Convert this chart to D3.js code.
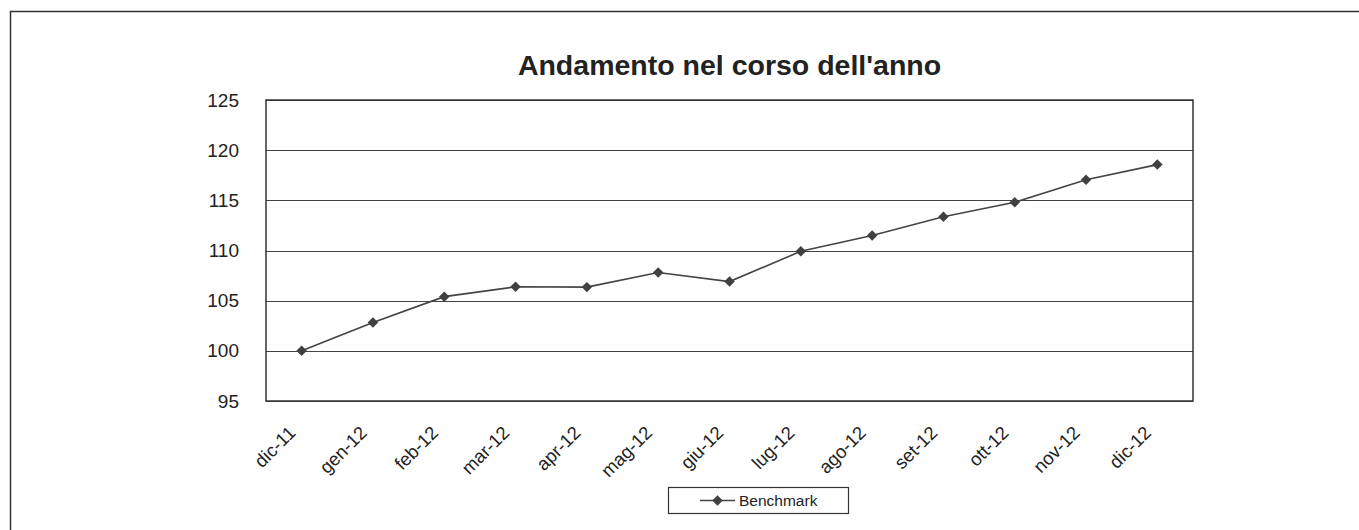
<!DOCTYPE html>
<html>
<head>
<meta charset="utf-8">
<script src="https://cdn.jsdelivr.net/npm/d3@7"></script>
<style>
  body { margin: 0; background: #fff; }
  text { font-family: "Liberation Sans", Arial, sans-serif; fill: #222; }
</style>
</head>
<body>
<div id="chart"></div>
<script>
// chart data
var months = ["dic-11", "gen-12", "feb-12", "mar-12", "apr-12", "mag-12", "giu-12",
              "lug-12", "ago-12", "set-12", "ott-12", "nov-12", "dic-12"];
var benchmark = [100, 102.83, 105.4, 106.38, 106.35, 107.8, 106.9,
                 109.92, 111.5, 113.37, 114.8, 117.06, 118.56];
var yTicks = [95, 100, 105, 110, 115, 120, 125];
var seriesName = "Benchmark";
var chartTitle = "Andamento nel corso dell'anno";

var width = 1359, height = 530;
var plot = {left: 266, right: 1193, top: 100, bottom: 401};

var svg = d3.select("#chart")
    .append("svg")
    .attr("width", width)
    .attr("height", height);

// outer frame (runs off the right and bottom edge)
svg.append("rect")
    .attr("x", 10.5).attr("y", 11.5)
    .attr("width", 1400).attr("height", 600)
    .attr("fill", "none")
    .attr("stroke", "#333")
    .attr("stroke-width", 1.5);

var x = d3.scaleBand()
    .domain(months)
    .range([plot.left, plot.right]);

var y = d3.scaleLinear()
    .domain([95, 125])
    .range([plot.bottom, plot.top]);

// title
svg.append("text")
    .attr("x", (plot.left + plot.right) / 2)
    .attr("y", 75)
    .style("text-anchor", "middle")
    .style("font-size", "28.5px")
    .style("font-weight", "bold")
    .text(chartTitle);

// horizontal grid lines
svg.append("g")
    .selectAll("line")
    .data(yTicks)
    .enter()
    .append("line")
    .attr("x1", plot.left).attr("x2", plot.right)
    .attr("y1", d => Math.round(y(d)) + 0.5)
    .attr("y2", d => Math.round(y(d)) + 0.5)
    .attr("stroke", "#444")
    .attr("stroke-width", 1);

// plot border
svg.append("rect")
    .attr("x", plot.left).attr("y", plot.top)
    .attr("width", plot.right - plot.left)
    .attr("height", plot.bottom - plot.top)
    .attr("fill", "none")
    .attr("stroke", "#333")
    .attr("stroke-width", 1.5);

// y axis labels
var yAxis = d3.axisLeft(y).tickValues(yTicks).tickSize(0).tickPadding(27);
var gy = svg.append("g")
    .attr("transform", `translate(${plot.left}, 0)`)
    .call(yAxis);
gy.select(".domain").remove();
gy.selectAll("text")
    .style("font-size", "19px")
    .style("font-family", "'Liberation Sans', Arial, sans-serif")
    .attr("fill", "#222");

// x axis labels, rotated
var xAxis = d3.axisBottom(x).tickSize(0).tickPadding(0);
var gx = svg.append("g")
    .attr("transform", `translate(0, ${plot.bottom})`)
    .call(xAxis);
gx.select(".domain").remove();
gx.selectAll("text")
    .style("font-size", "18.5px")
    .style("font-family", "'Liberation Sans', Arial, sans-serif")
    .attr("fill", "#222")
    .style("text-anchor", "end")
    .attr("dy", 0)
    .attr("y", 0)
    .attr("transform", "translate(-5, 33) rotate(-45)");

// the line
var line = d3.line()
    .x((d, i) => x(months[i]) + x.bandwidth() / 2)
    .y(d => y(d));

svg.append("path")
    .datum(benchmark)
    .attr("d", line)
    .attr("fill", "none")
    .attr("stroke", "#444")
    .attr("stroke-width", 1.6);

var diamond = d3.symbol().type(d3.symbolDiamond2).size(70);

svg.selectAll(".marker")
    .data(benchmark)
    .enter()
    .append("path")
    .attr("class", "marker")
    .attr("d", diamond)
    .attr("fill", "#404040")
    .attr("transform", (d, i) => `translate(${x(months[i]) + x.bandwidth() / 2}, ${y(d)})`);

// legend
var legend = svg.append("g").attr("transform", "translate(668, 487)");
legend.append("rect")
    .attr("x", 0.5).attr("y", 0.5)
    .attr("width", 180).attr("height", 26)
    .attr("fill", "#fff")
    .attr("stroke", "#333")
    .attr("stroke-width", 1.2);
legend.append("line")
    .attr("x1", 32).attr("x2", 67)
    .attr("y1", 13.5).attr("y2", 13.5)
    .attr("stroke", "#444")
    .attr("stroke-width", 1.6);
legend.append("path")
    .attr("d", diamond)
    .attr("fill", "#404040")
    .attr("transform", "translate(49.5, 13.5)");
legend.append("text")
    .attr("x", 71)
    .attr("y", 19)
    .style("font-size", "15.5px")
    .text(seriesName);
</script>
</body>
</html>
